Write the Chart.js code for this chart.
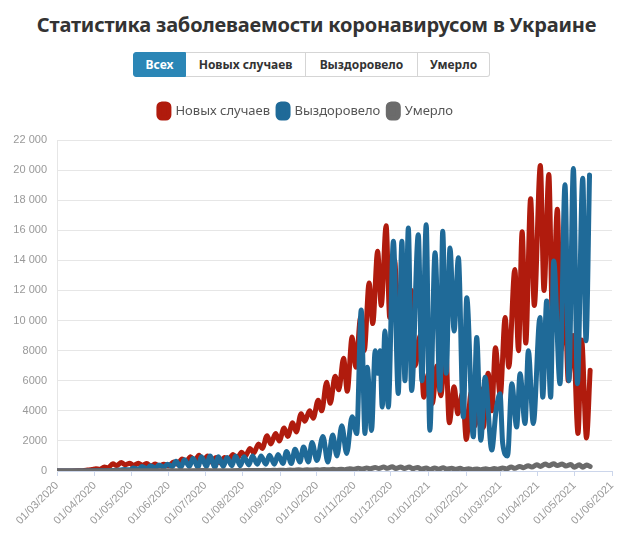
<!DOCTYPE html>
<html lang="ru">
<head>
  <meta charset="UTF-8">
  <title>Статистика заболеваемости коронавирусом в Украине</title>
  <script src="https://cdn.jsdelivr.net/npm/chart.js"></script>
  <style>
    body { margin: 0; background: #fff; font-family: "Noto Sans", sans-serif; }
    .wrap { position: relative; width: 633px; height: 541px; overflow: hidden; }
    h1 { position: absolute; top: 11px; left: 0; width: 633px; margin: 0; text-align: center;
         font-size: 20px; font-weight: 700; color: #333; letter-spacing: -0.2px; }
    .btns { position: absolute; top: 52px; left: 133px; display: flex; height: 25px; }
    .btns div { border: 1px solid #d5d5d5; border-left: none; padding: 0; text-align: center; white-space: nowrap;
                font-size: 12px; font-weight: 700; color: #333; line-height: 23px; box-sizing: border-box; height: 25px; }
    .btns div:first-child { border-left: 1px solid #2b86b6; background: #2b86b6; color: #fff;
                            border-radius: 3px 0 0 3px; border-color: #2b86b6; }
    .btns div:last-child { border-radius: 0 3px 3px 0; }
    .box { position: absolute; top: 96px; left: 0; width: 633px; height: 445px; }
  </style>
</head>
<body>
  <div class="wrap">
    <h1>Статистика заболеваемости коронавирусом в Украине</h1>
    <div class="btns">
      <div style="width:53px">Всех</div>
      <div style="width:120px">Новых случаев</div>
      <div style="width:112px">Выздоровело</div>
      <div style="width:72px">Умерло</div>
    </div>
    <div class="box"><canvas id="covidChart"></canvas></div>
  </div>

  <script>
    // days counted from 01/03/2020
    const seriesNames = ['Новых случаев', 'Выздоровело', 'Умерло'];

    const newDays = [0, 3, 10, 17, 21, 25, 29, 32, 35, 39, 42, 46, 49, 53, 56, 60, 63, 67, 70, 74, 77, 81, 84, 88,
      92, 96, 99, 103, 106, 110, 113, 117, 120, 124, 127, 131, 134, 138, 141, 145, 148, 152, 155, 159, 162, 166,
      169, 173, 176, 180, 183, 187, 190, 194, 197, 201, 204, 208, 211, 215, 218, 222, 225, 229, 232, 236, 239, 243,
      246, 250, 253, 257, 260, 264, 267, 271, 274, 278, 281, 285, 288, 292, 295, 299, 302, 306, 309, 313, 316, 320,
      323, 327, 330, 334, 337, 341, 344, 348, 351, 355, 358, 361, 365, 369, 372, 377, 380, 383, 386, 390, 393, 398,
      401, 405, 408, 412, 415, 418, 421, 425, 429, 432, 436, 439];
    const newVals = [0, 1, 3, 10, 25, 60, 100, 150, 110, 260, 220, 480, 360, 560, 420, 520, 360, 520, 380, 500, 330, 460, 320, 450,
      350, 600, 450, 800, 600, 950, 650, 1050, 650, 1000, 600, 900, 550, 900, 750, 1100, 800, 1250, 1000, 1500, 1200, 1800,
      1500, 2350, 1800, 2500, 2000, 2850, 2300, 3200, 2600, 3800, 3300, 4000, 3500, 4700, 4000, 5900, 4500, 6300, 5400, 7500, 5300, 8900,
      6900, 10200, 8000, 12500, 9800, 14600, 11000, 16300, 10200, 14000, 10000, 13500, 8500, 12000, 7000, 9000, 4900, 6500, 4500, 7000, 5000, 8200,
      3200, 5600, 3800, 5200, 2100, 5200, 3000, 5500, 2900, 6500, 4000, 8200, 5000, 10200, 6900, 13400, 8000, 15900, 8500, 18100, 11000, 20300,
      12000, 19700, 10000, 17400, 8000, 12000, 6000, 9000, 2500, 8700, 2200, 6700];

    const recDays = [0, 25, 35, 45, 52, 56, 60, 63, 67, 70, 74, 77, 81, 84, 88, 91, 95, 98, 102, 105, 109, 112, 116, 119,
      123, 126, 130, 133, 137, 140, 144, 147, 151, 154, 158, 161, 165, 168, 172, 175, 179, 182, 186, 189, 193, 196,
      200, 203, 207, 210, 214, 219, 223, 227, 230.5, 234.5, 238.5, 243, 246.8, 250.5, 253.6, 255.5, 259, 262, 264, 266,
      267.8, 270, 272.8, 277, 281, 284, 286.5, 289.3, 292, 297.5, 300.5, 304, 307, 311.3, 315.4, 317.6, 320.5, 323.6,
      327, 330.5, 334.6, 337.4, 342.8, 345.6, 349, 352.5, 358, 361.5, 364.8, 367, 371, 374.5, 378.5, 381.3, 385.4,
      388.1, 392.2, 397.7, 400, 403.2, 406.5, 409, 414.2, 418.3, 421.5, 425.2, 428.5, 432.9, 435.6, 438.5];
    const recVals = [0, 0, 10, 30, 60, 100, 80, 200, 120, 300, 150, 350, 200, 400, 250, 450, 300, 650, 250, 750, 300, 850, 250, 950,
      300, 1000, 250, 950, 300, 900, 350, 1000, 350, 950, 400, 1000, 450, 1000, 450, 1050, 450, 1100, 500, 1300, 500, 1450,
      600, 1600, 600, 1900, 700, 2300, 600, 2400, 1000, 3000, 1170, 3600, 2490, 10700, 2490, 6900, 2700, 8000, 6500, 8000,
      4250, 9300, 4250, 15270, 5150, 15270, 6000, 16150, 5350, 15710, 6000, 16370, 2710, 14500, 5350, 15930, 6500, 14830,
      9300, 14170, 3590, 11520, 2270, 8880, 2050, 6230, 1390, 4000, 5130, 1830, 1000, 5800, 2930, 6460, 3150,
      8000, 3150, 10200, 4910, 11300, 4910, 13950, 5800, 19020, 6000, 20110, 5800, 19450, 8660, 19680];

    const deathDays = [0, 20, 35, 50, 60, 75, 90, 105, 120, 135, 150, 153, 157, 160, 164, 167, 171, 174, 178, 181, 185, 188,
      192, 195, 199, 202, 206, 209, 213, 216, 220, 223, 227, 230, 234, 237, 241, 244, 248, 251, 255, 258, 262, 265, 269,
      272, 276, 279, 283, 286, 290, 293, 297, 300, 304, 307, 311, 314, 318, 321, 325, 328, 332, 335, 339, 342, 346, 349,
      353, 356, 360, 363, 367, 370, 374, 377, 381, 384, 388, 391, 395, 398, 402, 405, 409, 412, 416, 419, 423, 426, 430,
      433, 436, 439];
    const deathVals = [0, 1, 5, 10, 15, 12, 15, 20, 25, 20, 25, 20, 35, 25, 40, 30, 45, 30, 50, 35, 55, 40,
      65, 45, 75, 55, 80, 60, 90, 65, 100, 75, 110, 80, 120, 90, 150, 110, 180, 130, 200, 150, 230, 170, 260,
      180, 280, 170, 260, 170, 260, 150, 240, 120, 200, 100, 200, 120, 210, 130, 190, 110, 180, 100, 150, 90, 140, 90,
      150, 100, 160, 110, 200, 140, 260, 180, 300, 220, 350, 260, 420, 300, 470, 350, 480, 360, 460, 330, 430, 250, 420,
      250, 400, 300];

    const yTicks = [0, 2000, 4000, 6000, 8000, 10000, 12000, 14000, 16000, 18000, 20000, 22000];
    // month starts, as day offsets, and their labels
    const monthDays = [0, 31, 61, 92, 122, 153, 184, 214, 245, 275, 306, 337, 365, 396, 426, 457];
    const monthLabels = ['01/03/2020', '01/04/2020', '01/05/2020', '01/06/2020', '01/07/2020', '01/08/2020',
      '01/09/2020', '01/10/2020', '01/11/2020', '01/12/2020', '01/01/2021', '01/02/2021', '01/03/2021',
      '01/04/2021', '01/05/2021', '01/06/2021'];

    const colors = ['#b01b0d', '#1f6a98', '#6b6b6b'];

    function pts(days, vals) {
      return days.map((d, i) => ({ x: d, y: vals[i] }));
    }

    function fmt(v) {
      if (v < 10000) return String(v);
      return String(v).replace(/\B(?=(\d{3})+(?!\d))/g, ' ');
    }

    // extra space between the legend and the plot
    const legendGap = {
      id: 'legendGap',
      beforeInit(chart) {
        const fit = chart.legend.fit;
        chart.legend.fit = function () {
          fit.call(this);
          this.height += 12;
        };
      }
    };

    const lineStyle = { borderWidth: 5, pointRadius: 0, cubicInterpolationMode: 'monotone', borderJoinStyle: 'round', borderCapStyle: 'round' };

    new Chart(document.getElementById('covidChart').getContext('2d'), {
      type: 'line',
      data: {
        datasets: [
          { label: seriesNames[0], data: pts(newDays, newVals), borderColor: colors[0], backgroundColor: colors[0], order: 2, ...lineStyle },
          { label: seriesNames[1], data: pts(recDays, recVals), borderColor: colors[1], backgroundColor: colors[1], order: 1, ...lineStyle },
          { label: seriesNames[2], data: pts(deathDays, deathVals), borderColor: colors[2], backgroundColor: colors[2], order: 0, ...lineStyle }
        ]
      },
      plugins: [legendGap],
      options: {
        responsive: true,
        maintainAspectRatio: false,
        animation: false,
        layout: { padding: { top: 0, right: 21, left: 0, bottom: 0 } },
        plugins: {
          tooltip: { enabled: false },
          legend: {
            position: 'top',
            labels: {
              boxWidth: 10, boxHeight: 14, useBorderRadius: true, borderRadius: 3,
              color: '#555', padding: 8,
              font: { family: '"Noto Sans", sans-serif', size: 13 },
              sort: (a, b) => a.datasetIndex - b.datasetIndex
            }
          }
        },
        scales: {
          x: {
            type: 'linear',
            min: 0,
            max: 457,
            afterBuildTicks: s => { s.ticks = monthDays.map(v => ({ value: v })); },
            afterFit: s => { s.height = 70; },
            grid: { drawOnChartArea: false, color: '#ccd6eb', tickLength: 5 },
            border: { color: '#ccd6eb' },
            ticks: {
              autoSkip: false, minRotation: 45, maxRotation: 45, color: '#999',
              font: { family: '"Liberation Sans", Arial, sans-serif', size: 11 },
              callback: v => monthLabels[monthDays.indexOf(v)]
            }
          },
          y: {
            min: 0,
            max: 22000,
            afterBuildTicks: s => { s.ticks = yTicks.map(v => ({ value: v })); },
            afterFit: s => { s.width = 57; },
            grid: { color: '#e6e6e6', drawTicks: false },
            border: { display: true, color: '#e6e6e6' },
            ticks: {
              color: '#999', padding: 10,
              font: { family: '"Liberation Sans", Arial, sans-serif', size: 11 },
              callback: v => fmt(v)
            }
          }
        }
      }
    });
  </script>
</body>
</html>
